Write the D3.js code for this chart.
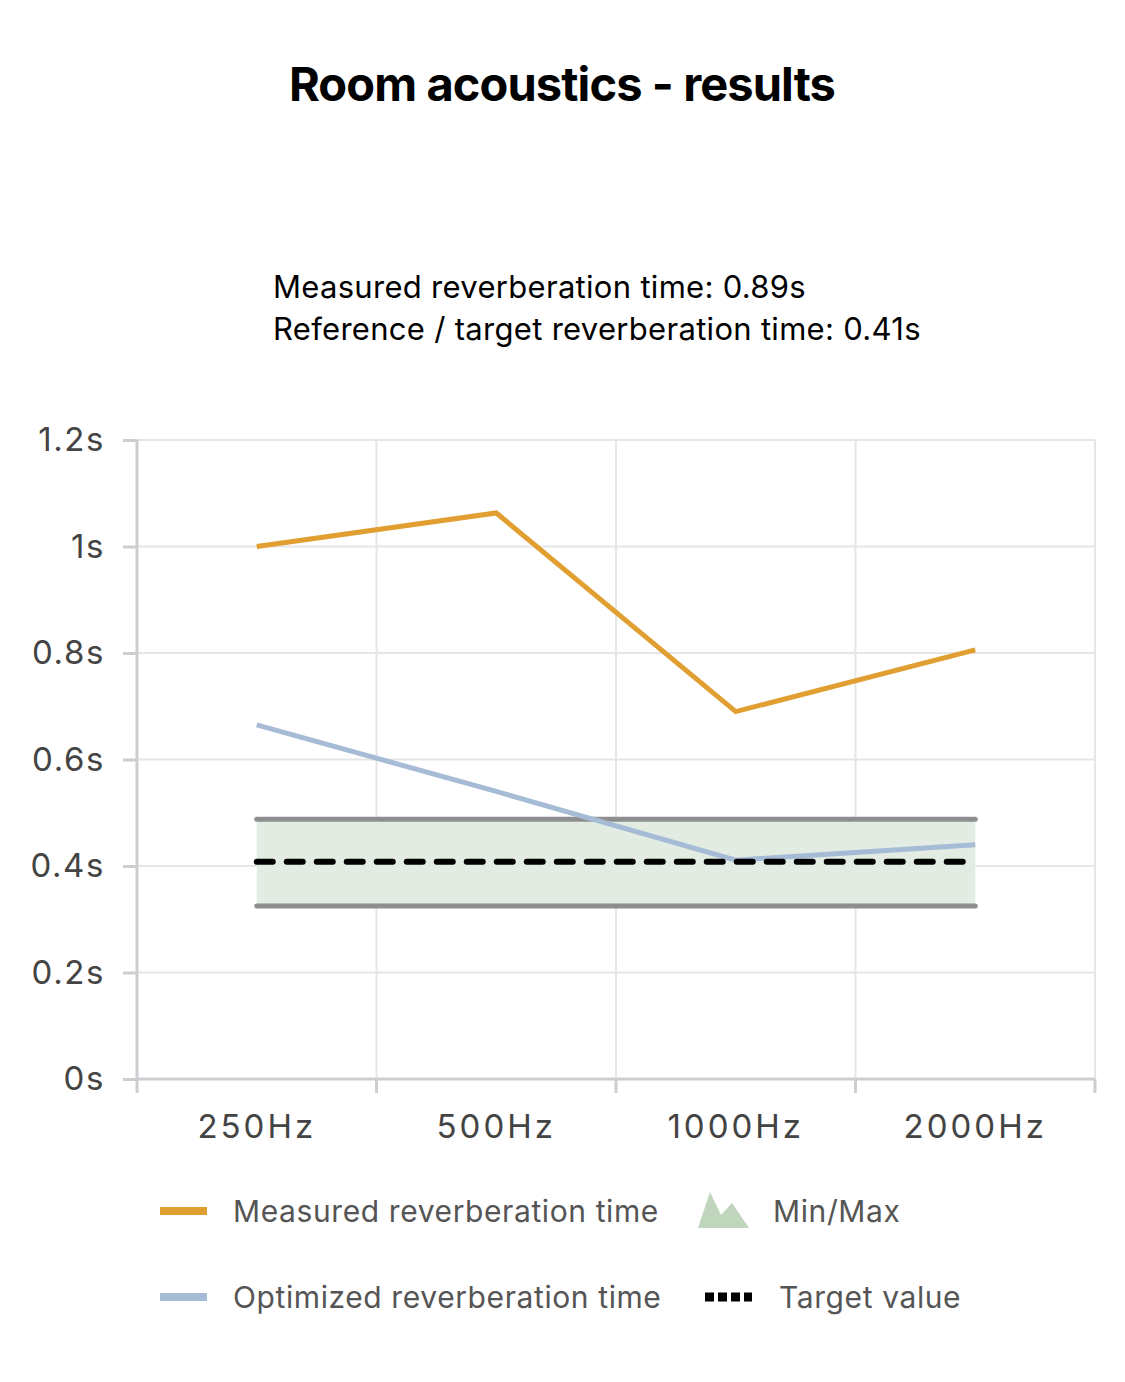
<!DOCTYPE html>
<html>
<head>
<meta charset="utf-8">
<script src="https://cdn.jsdelivr.net/npm/d3@7"></script>
<style>
  html, body { margin: 0; padding: 0; background: #fff; }
  svg { display: block; font-family: Inter, "Open Sans", sans-serif; }
</style>
</head>
<body>
<div id="chart"></div>
<script>
// values
const bands = ["250Hz", "500Hz", "1000Hz", "2000Hz"];
const measured = [1.0, 1.063, 0.69, 0.806];
const optimized = [0.665, 0.54, 0.411, 0.44];
const minValues = [0.325, 0.325, 0.325, 0.325];
const maxValues = [0.488, 0.488, 0.488, 0.488];
const targetValues = [0.408, 0.408, 0.408, 0.408];
const yTicks = [0, 0.2, 0.4, 0.6, 0.8, 1, 1.2];
const infoLines = [
  "Measured reverberation time: 0.89s",
  "Reference / target reverberation time: 0.41s"
];

const W = 1125, H = 1382;
const margin = { top: 440, right: 30, bottom: 303, left: 137 };
const width = W - margin.left - margin.right;
const height = H - margin.top - margin.bottom;

const svg = d3.select("#chart").append("svg")
  .attr("width", W)
  .attr("height", H);

svg.append("text")
  .attr("x", 562).attr("y", 101)
  .attr("text-anchor", "middle")
  .attr("font-size", 47).attr("font-weight", 700)
  .attr("letter-spacing", -0.9)
  .attr("fill", "#000")
  .text("Room acoustics - results");

svg.selectAll(".info")
  .data(infoLines)
  .enter().append("text")
  .attr("class", "info")
  .attr("x", 273)
  .attr("y", (d, i) => 298 + i * 42)
  .attr("font-size", 31)
  .attr("letter-spacing", 0.3)
  .attr("fill", "#000")
  .text(d => d);

const g = svg.append("g")
  .attr("transform", `translate(${margin.left},${margin.top})`);

const x = d3.scaleBand().domain(bands).range([0, width]).padding(0);
const y = d3.scaleLinear().domain([0, 1.2]).range([height, 0]);
const cx = d => x(d) + x.bandwidth() / 2;

// grid
g.append("g").selectAll("line")
  .data(yTicks.slice(1))
  .enter().append("line")
  .attr("x1", 0).attr("x2", width)
  .attr("y1", d => y(d)).attr("y2", d => y(d))
  .attr("stroke", "#e6e6e6").attr("stroke-width", 2);

const xEdges = bands.map(b => x(b)).concat([width]);
g.append("g").selectAll("line")
  .data(xEdges.slice(1))
  .enter().append("line")
  .attr("x1", d => d).attr("x2", d => d)
  .attr("y1", 0).attr("y2", height)
  .attr("stroke", "#e6e6e6").attr("stroke-width", 2);

// y axis
const yAxis = g.append("g")
  .call(d3.axisLeft(y).tickValues(yTicks).tickSize(14).tickPadding(18)
    .tickFormat(d => d3.format("~g")(d) + "s"));
yAxis.select(".domain").attr("stroke", "#cdcdd2").attr("stroke-width", 3)
  .attr("d", `M0,0V${height}`);
yAxis.selectAll(".tick line").attr("stroke", "#cdcdd2").attr("stroke-width", 3);
yAxis.selectAll(".tick text")
  .attr("font-size", 33).attr("fill", "#444").attr("letter-spacing", 1.6)
  .attr("font-family", "Inter, sans-serif");

// x axis
const xAxis = g.append("g")
  .attr("transform", `translate(0,${height})`)
  .call(d3.axisBottom(x).tickSize(0).tickPadding(36));
xAxis.select(".domain").remove();
xAxis.selectAll(".tick text")
  .attr("font-size", 33).attr("fill", "#444").attr("letter-spacing", 3)
  .attr("font-family", "Inter, sans-serif");
g.append("line")
  .attr("x1", 0).attr("x2", width)
  .attr("y1", height).attr("y2", height)
  .attr("stroke", "#cdcdd2").attr("stroke-width", 3);
g.append("g").selectAll("line")
  .data(xEdges)
  .enter().append("line")
  .attr("x1", d => d).attr("x2", d => d)
  .attr("y1", height).attr("y2", height + 14)
  .attr("stroke", "#cdcdd2").attr("stroke-width", 3);

// min/max band
const rangeData = bands.map((b, i) => ({ b, lo: minValues[i], hi: maxValues[i] }));
g.append("path")
  .datum(rangeData)
  .attr("fill", "#e3ece3")
  .attr("d", d3.area().x(d => cx(d.b)).y0(d => y(d.lo)).y1(d => y(d.hi)));

const line = vals => d3.line().x((d, i) => cx(bands[i])).y(d => y(d))(vals);

[minValues, maxValues].forEach(vals => {
  g.append("path")
    .attr("d", line(vals))
    .attr("fill", "none")
    .attr("stroke", "#8e8e8e").attr("stroke-width", 5)
    .attr("stroke-linecap", "round");
});

g.append("path")
  .attr("d", line(measured))
  .attr("fill", "none").attr("stroke", "#e09f30").attr("stroke-width", 5)
  .attr("stroke-linejoin", "miter");

g.append("path")
  .attr("d", line(optimized))
  .attr("fill", "none").attr("stroke", "#a6bbd6").attr("stroke-width", 5);

g.append("path")
  .attr("d", d3.line().x((d, i) => cx(bands[i]) - (i === 3 ? 12 : 0)).y(d => y(d))(targetValues))
  .attr("fill", "none").attr("stroke", "#000").attr("stroke-width", 6)
  .attr("stroke-dasharray", "16 14").attr("stroke-linecap", "round");

// legend
const legend = svg.append("g");
const legendItems = [
  { label: "Measured reverberation time", type: "line", color: "#e09f30", x: 160, y: 1211 },
  { label: "Min/Max", type: "area", color: "#bfd6bc", x: 698, y: 1211 },
  { label: "Optimized reverberation time", type: "line", color: "#a6bbd6", x: 160, y: 1297 },
  { label: "Target value", type: "dash", color: "#000", x: 705, y: 1297 }
];
legendItems.forEach(it => {
  const lg = legend.append("g").attr("transform", `translate(${it.x},${it.y})`);
  if (it.type === "line") {
    lg.append("line").attr("x1", 0).attr("x2", 47).attr("y1", 0).attr("y2", 0)
      .attr("stroke", it.color).attr("stroke-width", 8);
  } else if (it.type === "area") {
    lg.append("path")
      .attr("d", "M0,17 L12,-19 L23,4 L34,-8 L51,17 Z")
      .attr("fill", it.color);
  } else {
    lg.append("line").attr("x1", 0).attr("x2", 47).attr("y1", 0).attr("y2", 0)
      .attr("stroke", it.color).attr("stroke-width", 9)
      .attr("stroke-dasharray", "9 4");
  }
  lg.append("text")
    .attr("x", it.type === "line" ? 73 : (it.type === "area" ? 75 : 74))
    .attr("y", 0).attr("dy", "0.35em")
    .attr("font-size", 30).attr("fill", "#555").attr("letter-spacing", 0.6)
    .text(it.label);
});
</script>
</body>
</html>
